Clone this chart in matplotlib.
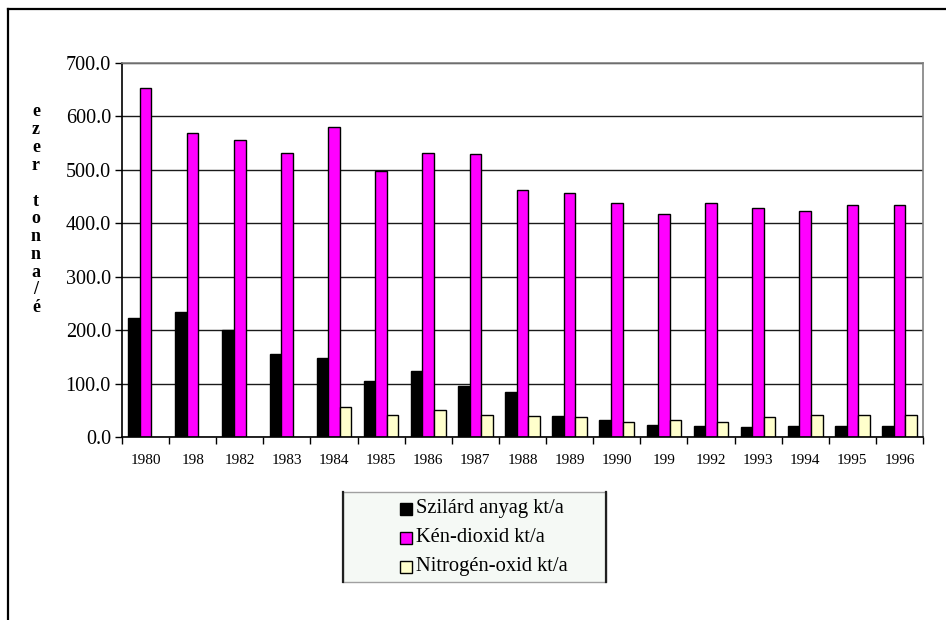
import matplotlib
matplotlib.use("Agg")
import matplotlib.pyplot as plt
import numpy as np
from matplotlib.patches import Rectangle
from matplotlib.lines import Line2D

plt.rcParams['font.family'] = ['Liberation Serif', 'DejaVu Serif']

years = ["1980", "198", "1982", "1983", "1984", "1985", "1986", "1987", "1988",
         "1989", "1990", "199", "1992", "1993", "1994", "1995", "1996"]
szilard = [223, 234, 200, 155, 148, 105, 124, 96, 84, 39, 32, 22, 21, 19, 21, 21, 21]
ken_dioxid = [653, 569, 556, 531, 580, 498, 531, 530, 463, 457, 438, 417, 438, 428, 423, 434, 434]
nitrogen_oxid = [0, 0, 0, 0, 56, 41, 50, 41, 39, 37, 29, 31, 29, 37, 41, 41, 41]
series_labels = ["Szilárd anyag kt/a", "Kén-dioxid kt/a", "Nitrogén-oxid kt/a"]
series_colors = ["#000000", "#FF00FF", "#FFFFCC"]
y_ticks = [0, 100, 200, 300, 400, 500, 600, 700]
y_label = "ezer tonna/é"

W, H = 946, 620
fig = plt.figure(figsize=(W / 100, H / 100), dpi=100)

def fx(px):
    return px / W

def fy(py):
    return 1 - py / H

left, right, top, bottom = 122, 923, 63, 437
ax = fig.add_axes([fx(left), fy(bottom), fx(right - left), (bottom - top) / H])

n = len(years)
x = np.arange(n)
bw = 0.245
data = [szilard, ken_dioxid, nitrogen_oxid]
for i, (vals, col) in enumerate(zip(data, series_colors)):
    v = np.array(vals, dtype=float)
    mask = v > 0
    ax.bar(x[mask] + (i - 1) * bw, v[mask], width=bw, color=col,
           edgecolor="black", linewidth=1.0, zorder=3)

ax.set_xlim(-0.5, n - 0.5)
ax.set_ylim(0, 700)
ax.set_yticks(y_ticks)
ax.set_yticklabels([f"{t:.1f}" for t in y_ticks], fontsize=14.5)
ax.set_xticks(x)
ax.set_xticklabels(years, fontsize=11)
ax.set_xticks(np.arange(n + 1) - 0.5, minor=True)
ax.tick_params(axis="x", which="major", length=0, pad=12)
ax.tick_params(axis="x", which="minor", length=5, width=1, direction="out", color="black")
ax.tick_params(axis="y", which="major", length=5, width=1, direction="out", pad=3)

ax.yaxis.grid(True, color="#1a1a1a", linewidth=1.0, zorder=0)
ax.set_axisbelow(True)
for s in ["left", "bottom"]:
    ax.spines[s].set_color("black")
    ax.spines[s].set_linewidth(1.2)
for s in ["top", "right"]:
    ax.spines[s].set_color("#808080")
    ax.spines[s].set_linewidth(1.2)
ax.spines["bottom"].set_zorder(4)

# vertical stacked axis title
ly0, lstep = 112, 17.8
for k, ch in enumerate(y_label):
    if ch != " ":
        fig.text(fx(36), fy(ly0 + k * lstep), ch, fontsize=13, fontweight="bold",
                 ha="center", va="center")

# outer chart frame
fig.add_artist(Line2D([fx(8), fx(8)], [fy(620), fy(9)], color="black", lw=1.6,
                      transform=fig.transFigure))
fig.add_artist(Line2D([fx(8), fx(946)], [fy(9), fy(9)], color="black", lw=1.6,
                      transform=fig.transFigure))

# legend box
lx0, lx1, ly_top, ly_bot = 343, 606, 492, 582
fig.add_artist(Rectangle((fx(lx0), fy(ly_bot)), fx(lx1 - lx0), (ly_bot - ly_top) / H,
                         facecolor="#f5f9f5", edgecolor="#a0a0a0", lw=1.0,
                         transform=fig.transFigure))
for xx in (lx0, lx1):
    fig.add_artist(Line2D([fx(xx), fx(xx)], [fy(ly_bot), fy(ly_top)], color="#202020",
                          lw=1.6, transform=fig.transFigure))
rows = [509, 538, 567]
for lab, col, ry in zip(series_labels, series_colors, rows):
    fig.add_artist(Rectangle((fx(400), fy(ry + 6)), fx(12), 12 / H, facecolor=col,
                             edgecolor="black", lw=1.0, transform=fig.transFigure))
    fig.text(fx(416), fy(ry), lab, fontsize=14.8, ha="left", va="center")

fig.savefig("out.png", dpi=100)
